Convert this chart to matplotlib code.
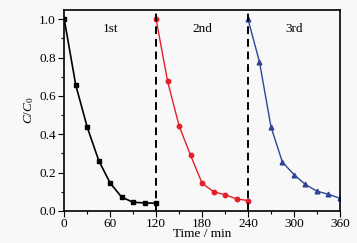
import matplotlib
matplotlib.use('Agg')
import matplotlib.pyplot as plt
from matplotlib.ticker import MultipleLocator

# cycle data
t1 = [0, 15, 30, 45, 60, 75, 90, 105, 120]
c1 = [1.0, 0.657, 0.437, 0.263, 0.145, 0.072, 0.045, 0.042, 0.040]
t2 = [120, 135, 150, 165, 180, 195, 210, 225, 240]
c2 = [1.0, 0.676, 0.444, 0.29, 0.145, 0.10, 0.084, 0.063, 0.054]
t3 = [240, 255, 270, 285, 300, 315, 330, 345, 360]
c3 = [1.0, 0.778, 0.439, 0.254, 0.19, 0.138, 0.103, 0.087, 0.066]
cycle_labels = ['1st', '2nd', '3rd']
cycle_label_x = [60, 180, 300]
dividers = [120, 240]

plt.rcParams['font.family'] = 'Liberation Serif'
plt.rcParams['font.size'] = 9.5
plt.rcParams['mathtext.fontset'] = 'custom'
plt.rcParams['mathtext.rm'] = 'Liberation Serif'
plt.rcParams['mathtext.it'] = 'Liberation Serif:italic'

fig = plt.figure(figsize=(3.57, 2.43), dpi=100, facecolor='#f8f8f8')
ax = fig.add_axes([0.18, 0.132, 0.772, 0.828])
ax.set_facecolor('#f8f8f8')

ax.plot(t1, c1, color='black', marker='s', markersize=3, lw=1.2)
ax.plot(t2, c2, color='#e3202a', marker='o', markersize=3.2, lw=1.0)
ax.plot(t3, c3, color='#2f4595', marker='^', markersize=3.4, lw=1.0)

for d in dividers:
    ax.axvline(d, color='black', ls=(0, (4, 2.5)), lw=1.4)

for lab, x in zip(cycle_labels, cycle_label_x):
    ax.text(x, 0.95, lab, ha='center', va='center')

ax.set_xlim(0, 360)
ax.set_ylim(0, 1.05)
ax.xaxis.set_major_locator(MultipleLocator(60))
ax.xaxis.set_minor_locator(MultipleLocator(30))
ax.yaxis.set_major_locator(MultipleLocator(0.2))
ax.yaxis.set_minor_locator(MultipleLocator(0.1))
ax.yaxis.set_major_formatter(lambda v, p: '%.1f' % v)
ax.tick_params(which='both', direction='out', top=False, right=False, width=0.8)
ax.tick_params(which='major', length=4, pad=2)
ax.tick_params(axis='x', which='major', pad=1)
ax.tick_params(which='minor', length=2.5)
for s in ax.spines.values():
    s.set_linewidth(1.2)

ax.set_xlabel('Time / min', labelpad=-1)
ax.set_ylabel('$C/C_0$', labelpad=2)

fig.savefig('out.png', dpi=100, facecolor=fig.get_facecolor())
